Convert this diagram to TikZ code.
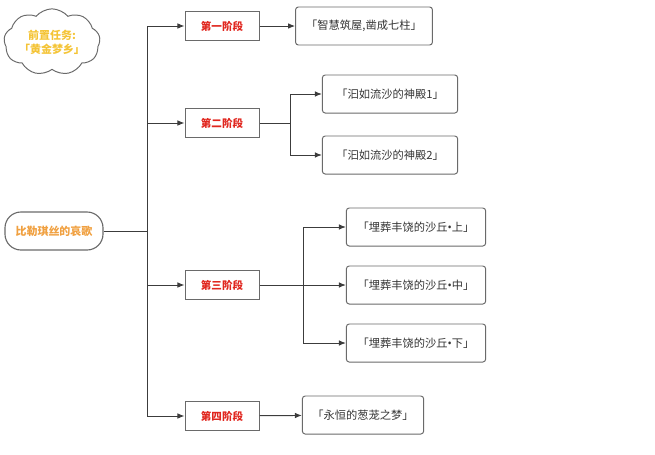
\documentclass[tikz,border=0pt]{standalone}
\usepackage{fontspec}
\setmainfont{Noto Sans CJK SC}
\newfontfamily\dotfont{Noto Sans}
\usetikzlibrary{shapes.symbols,arrows.meta}
\definecolor{linegray}{HTML}{3C3C3C}
\definecolor{boxgray}{HTML}{6A6A6A}
\definecolor{stagered}{HTML}{E0261E}
\definecolor{rootorange}{HTML}{F0A040}
\definecolor{cloudgold}{HTML}{F4C437}
\definecolor{leaftext}{HTML}{333333}
\newcommand\mdot{{\dotfont •}}
\tikzset{
	stagebox/.style={draw=boxgray,line width=0.7pt,minimum width=1.85cm,minimum height=0.72cm,inner sep=0pt,font=\fontsize{7.5}{9}\selectfont\bfseries,text=stagered},
	leafbox/.style={draw=boxgray,line width=0.7pt,rounded corners=2pt,minimum height=0.95cm,inner sep=0pt,font=\fontsize{8}{9}\selectfont,text=leaftext},
	rootbox/.style={draw=boxgray,line width=0.8pt,rounded corners=0.4cm,minimum width=2.45cm,minimum height=0.95cm,inner sep=0pt,font=\fontsize{7.8}{9}\selectfont\bfseries,text=rootorange},
	link/.style={draw=linegray,line width=0.7pt},
	arrow/.style={link,-{Latex[length=5pt,width=4pt]}}
}

\begin{document}
\begin{tikzpicture}[x=0.025cm,y=-0.025cm]
	\useasboundingbox (0,0) rectangle (655,454);
	% tasks
	\node[cloud,cloud puffs=9,cloud puff arc=100,aspect=1.7,draw=boxgray,line width=0.7pt,minimum width=2.35cm,minimum height=1.45cm,inner sep=0pt,align=center,font=\fontsize{7.8}{10}\selectfont\bfseries,text=cloudgold] (pre) at (52,42) {前置任务:\\「黄金梦乡」};
	\node[rootbox] (root) at (54,231) {比勒琪丝的哀歌};
	% stages
	\node[stagebox] (s1) at (222,26) {第一阶段};
	\node[stagebox] (s2) at (222,123) {第二阶段};
	\node[stagebox] (s3) at (222,285) {第三阶段};
	\node[stagebox] (s4) at (222,416) {第四阶段};
	% leaves
	\node[leafbox,minimum width=3.42cm] (l1) at (364,26) {「智慧筑屋,凿成七柱」};
	\node[leafbox,minimum width=3.38cm] (l21) at (390,94) {「汩如流沙的神殿1」};
	\node[leafbox,minimum width=3.38cm] (l22) at (390,155) {「汩如流沙的神殿2」};
	\node[leafbox,minimum width=3.48cm] (l31) at (416,227) {「埋葬丰饶的沙丘\mdot 上」};
	\node[leafbox,minimum width=3.48cm] (l32) at (416,285) {「埋葬丰饶的沙丘\mdot 中」};
	\node[leafbox,minimum width=3.48cm] (l33) at (416,343) {「埋葬丰饶的沙丘\mdot 下」};
	\node[leafbox,minimum width=3.03cm] (l4) at (363,415) {「永恒的葱茏之梦」};
	% connectors
	\coordinate (j0) at (147,231);
	\coordinate (j2) at (290,123);
	\coordinate (j3) at (303,285);
	\draw[link] (root.east) -- (j0);
	\foreach \s in {s1,s2,s3,s4} {
		\draw[arrow] (j0) |- (\s.west);
	}
	\draw[arrow] (s1) -- (l1);
	\draw[link] (s2.east) -- (j2);
	\draw[arrow] (j2) |- (l21.west);
	\draw[arrow] (j2) |- (l22.west);
	\draw[arrow] (s3) -- (l32);
	\draw[arrow] (j3) |- (l31.west);
	\draw[arrow] (j3) |- (l33.west);
	\draw[arrow] (s4) -- (l4);
\end{tikzpicture}
\end{document}
